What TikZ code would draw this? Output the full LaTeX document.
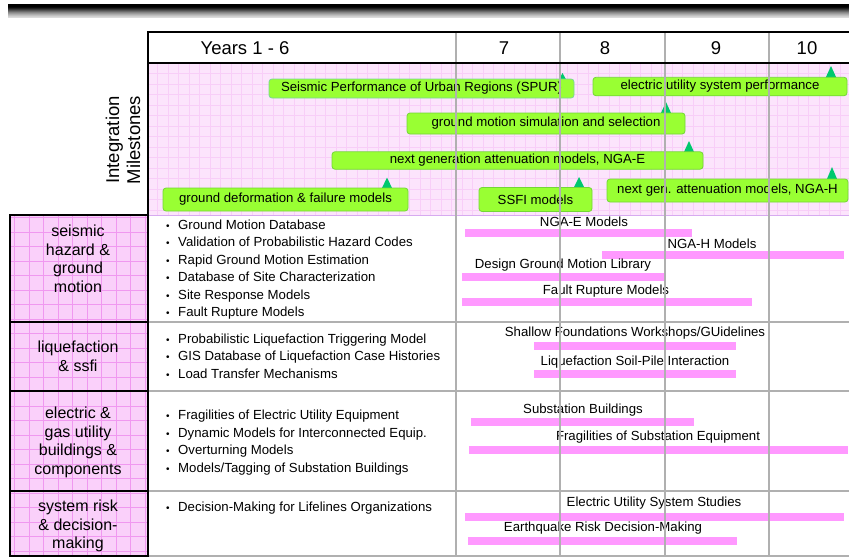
\documentclass[tikz,border=0pt]{standalone}
\usepackage{fontspec}
\setmainfont{Liberation Sans}
\definecolor{milegreen}{RGB}{153,255,51}
\definecolor{mileedge}{RGB}{115,215,55}
\definecolor{marker}{RGB}{0,200,110}
\definecolor{taskpink}{RGB}{255,153,255}
\definecolor{panelpink}{RGB}{252,228,252}
\definecolor{panelgrid}{RGB}{248,206,248}
\definecolor{paneledge}{RGB}{215,170,240}
\definecolor{cellpink}{RGB}{250,208,250}
\definecolor{cellgrid}{RGB}{240,152,240}
\definecolor{rulegray}{RGB}{176,176,176}

\begin{document}
\begin{tikzpicture}[x=1pt, y=-1pt,
    mile/.style={draw=mileedge, fill=milegreen, rounded corners=3pt, line width=0.8pt, inner sep=0pt, font=\fontsize{13.2}{15}\selectfont},
    task/.style={inner sep=0pt, font=\fontsize{13.2}{15}\selectfont},
    topic/.style={align=center, inner sep=0pt, font=\fontsize{16}{18.5}\selectfont},
    items/.style={anchor=west, align=left, inner sep=0pt, font=\fontsize{13.2}{17.4}\selectfont},
    year/.style={inner sep=0pt, font=\fontsize{18.5}{20}\selectfont}]
                \useasboundingbox (0,0) rectangle (849,557);
                % title bar, black at the top fading to grey
                \foreach \row/\ink in {0/100,1/100,2/100,3/96,4/88,5/78,6/68,7/58,8/48,9/40,10/32,11/25,12/19,13/14}
                    \fill[black!\ink] (8,{4+\row}) rectangle (849,{5.05+\row});
                % milestone panel and topic cells
                \fill[panelpink] (148,63) rectangle (849,215);
                \draw[panelgrid, line width=0.5pt, step=10.5pt] (148,63) grid (849,215);
                \draw[paneledge, line width=1pt] (148,215) -- (849,215);
                \fill[cellpink] (10,215) rectangle (148,556);
                \draw[cellgrid, line width=0.5pt, step=14.5pt] (10,215) grid (148,556);

                % header
                \node[year] (yrs) at (245,48) {Years 1 - 6};
                \node[year] (yr7) at (504,48) {7};
                \node[year] (yr8) at (605,48) {8};
                \node[year] (yr9) at (716,48) {9};
                \node[year] (yr10) at (807,48) {10};
                \node[rotate=90, align=center, inner sep=0pt, font=\fontsize{18.5}{21}\selectfont] (milelabel) at (123,140) {Integration\\Milestones};

                % milestone markers
                \fill[marker] (556.5,84) -- (562.5,73) -- (568.5,84) -- cycle;
                \fill[marker] (825.5,78) -- (831,66) -- (836.5,78) -- cycle;
                \fill[marker] (660.5,114) -- (666,102) -- (671.5,114) -- cycle;
                \fill[marker] (683.5,153) -- (689,141) -- (694.5,153) -- cycle;
                \fill[marker] (381.5,189) -- (387,177.5) -- (392.5,189) -- cycle;
                \fill[marker] (573.5,188) -- (579,177) -- (584.5,188) -- cycle;
                \fill[marker] (826.5,180) -- (832,167) -- (837.5,180) -- cycle;
                % milestones
                \node[mile, draw={rgb,255:red,120;green,215;blue,150}, minimum width=305, minimum height=19] (spur) at (421.5,88.5) {Seismic Performance of Urban Regions (SPUR)};
                \node[mile, minimum width=254, minimum height=18.5] (eusp) at (720,86.5) {electric utility system performance};
                \node[mile, minimum width=278, minimum height=21] (gmss) at (546,123.5) {ground motion simulation and selection};
                \node[mile, minimum width=371, minimum height=17.5] (ngae) at (517.5,160.5) {next generation attenuation models, NGA-E};
                \node[mile, minimum width=245, minimum height=23] (gdfm) at (285.5,199.5) {ground deformation \& failure models};
                \node[mile, minimum width=113, minimum height=24] (ssfi) at (535.5,199.5) {SSFI models};
                \node[mile, minimum width=241, minimum height=23] (ngah) at (727.5,190.5) {next gen. attenuation models, NGA-H};

                % topics
                \node[topic] (hazard) at (78,259) {seismic\\hazard \&\\ground\\motion};
                \node[topic] (liq) at (78,356.5) {liquefaction\\\& ssfi};
                \node[topic] (utility) at (78,442.5) {electric \&\\gas utility\\buildings \&\\components};
                \node[topic] (risk) at (78,526) {system risk\\\& decision-\\making};

                % task lists
                \node[items] (hazlist) at (166,269.5) {{\fontsize{10}{9}\selectfont\textbullet}\hspace{8.5pt}Ground Motion Database\\{\fontsize{10}{9}\selectfont\textbullet}\hspace{8.5pt}Validation of Probabilistic Hazard Codes\\{\fontsize{10}{9}\selectfont\textbullet}\hspace{8.5pt}Rapid Ground Motion Estimation\\{\fontsize{10}{9}\selectfont\textbullet}\hspace{8.5pt}Database of Site Characterization\\{\fontsize{10}{9}\selectfont\textbullet}\hspace{8.5pt}Site Response Models\\{\fontsize{10}{9}\selectfont\textbullet}\hspace{8.5pt}Fault Rupture Models};
                \node[items] (liqlist) at (166,356) {{\fontsize{10}{9}\selectfont\textbullet}\hspace{8.5pt}Probabilistic Liquefaction Triggering Model\\{\fontsize{10}{9}\selectfont\textbullet}\hspace{8.5pt}GIS Database of Liquefaction Case Histories\\{\fontsize{10}{9}\selectfont\textbullet}\hspace{8.5pt}Load Transfer Mechanisms};
                \node[items] (utillist) at (166,442.5) {{\fontsize{10}{9}\selectfont\textbullet}\hspace{8.5pt}Fragilities of Electric Utility Equipment\\{\fontsize{10}{9}\selectfont\textbullet}\hspace{8.5pt}Dynamic Models for Interconnected Equip.\\{\fontsize{10}{9}\selectfont\textbullet}\hspace{8.5pt}Overturning Models\\{\fontsize{10}{9}\selectfont\textbullet}\hspace{8.5pt}Models/Tagging of Substation Buildings};
                \node[items] (risklist) at (166,508) {{\fontsize{10}{9}\selectfont\textbullet}\hspace{8.5pt}Decision-Making for Lifelines Organizations};

                % task bars
                \fill[taskpink] (465,229) rectangle (692,237);
                \fill[taskpink] (602,251) rectangle (844,258.5);
                \fill[taskpink] (462,273) rectangle (665,281);
                \fill[taskpink] (462,298) rectangle (752,306);
                \fill[taskpink] (534,342) rectangle (736,350);
                \fill[taskpink] (534,370) rectangle (736,378);
                \fill[taskpink] (471,418) rectangle (694,426);
                \fill[taskpink] (469,446) rectangle (848,453.5);
                \fill[taskpink] (465,513) rectangle (844,521);
                \fill[taskpink] (468,537) rectangle (737,545);
                \node[task] (ngaebar) at (584,222) {NGA-E Models};
                \node[task] (ngahbar) at (712,244) {NGA-H Models};
                \node[task] (dgmlbar) at (563,265) {Design Ground Motion Library};
                \node[task] (frmbar) at (606,291) {Fault Rupture Models};
                \node[task] (sfwbar) at (635,333) {Shallow Foundations Workshops/GUidelines};
                \node[task] (lspbar) at (635,362) {Liquefaction Soil-Pile Interaction};
                \node[task] (sbbar) at (583,410) {Substation Buildings};
                \node[task] (fsebar) at (658,437) {Fragilities of Substation Equipment};
                \node[task] (eussbar) at (654,503) {Electric Utility System Studies};
                \node[task] (erdmbar) at (603,528) {Earthquake Risk Decision-Making};

                % rules
                \draw[rulegray, line width=1.2pt] (148,322) -- (849,322);
                \draw[rulegray, line width=1.2pt] (148,391) -- (849,391);
                \draw[rulegray, line width=1.2pt] (148,491) -- (849,491);
                \draw[rulegray, line width=1.2pt] (148,556) -- (849,556);
                \draw[rulegray, line width=1.2pt] (456,32) -- (456,556);
                \draw[rulegray, line width=1.2pt] (560,32) -- (560,556);
                \draw[rulegray, line width=1.2pt] (665,32) -- (665,556);
                \draw[rulegray, line width=1.2pt] (769,32) -- (769,556);
                \draw[line width=2pt] (147,32) -- (849,32);
                \draw[line width=2pt] (147,63) -- (849,63);
                \draw[line width=2pt] (148,31) -- (148,556);
                \draw[line width=1.6pt] (10,215) rectangle (148,556);
                \draw[line width=1.6pt] (10,322) -- (148,322);
                \draw[line width=1.6pt] (10,391) -- (148,391);
                \draw[line width=1.6pt] (10,491) -- (148,491);
            \end{tikzpicture}
\end{document}
